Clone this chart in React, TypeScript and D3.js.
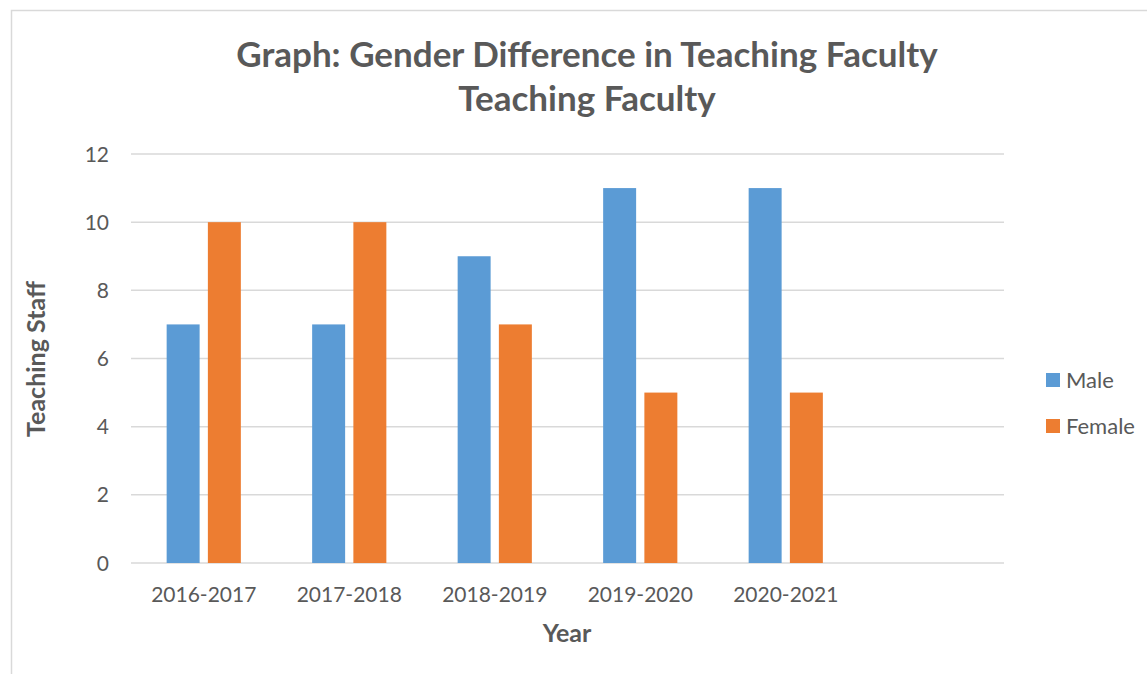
import React, { useRef, useEffect } from 'react';
import * as d3 from 'd3';

// chart data
const years = ['2016-2017', '2017-2018', '2018-2019', '2019-2020', '2020-2021', ''];
const seriesNames = ['Male', 'Female'];
const maleValues = [7, 7, 9, 11, 11];
const femaleValues = [10, 10, 7, 5, 5];
const yTicks = [0, 2, 4, 6, 8, 10, 12];
const seriesColors = ['#5B9BD5', '#ED7D31'];

const App = () => {
    const ref = useRef<HTMLDivElement>(null);

    useEffect(() => {
        d3.select(ref.current).select('svg').remove();

        const W = 1147, H = 674;
        const font = 'Lato, "Open Sans", sans-serif';
        const textColor = '#595959';
        const gridColor = '#d9d9d9';

        const svg = d3.select(ref.current)
            .append('svg')
            .attr('width', W)
            .attr('height', H)
            .style('display', 'block')
            .style('position', 'absolute')
            .style('left', 0)
            .style('top', 0);

        svg.append('rect').attr('width', W).attr('height', H).attr('fill', '#fff');

        // chart border
        svg.append('rect')
            .attr('x', 11.5).attr('y', 10.5)
            .attr('width', W + 20).attr('height', H + 20)
            .attr('fill', 'none')
            .attr('stroke', gridColor)
            .attr('stroke-width', 1.5);

        const left = 131, right = 1004, top = 154, bottom = 563;

        const x0 = d3.scaleBand<string>()
            .domain(years)
            .range([left, right])
            .paddingInner(0.49)
            .paddingOuter(0.245);

        const x1 = d3.scaleBand<string>()
            .domain(seriesNames)
            .range([0, x0.bandwidth()])
            .paddingInner(0.2);

        const y = d3.scaleLinear().domain([0, 12]).range([bottom, top]);

        // gridlines
        svg.append('g')
            .selectAll('line')
            .data(yTicks)
            .enter()
            .append('line')
            .attr('x1', left).attr('x2', right)
            .attr('y1', d => y(d)).attr('y2', d => y(d))
            .attr('stroke', gridColor)
            .attr('stroke-width', 1.5);

        // y tick labels
        svg.append('g')
            .selectAll('text')
            .data(yTicks)
            .enter()
            .append('text')
            .attr('x', 109)
            .attr('y', d => y(d))
            .attr('dy', '0.36em')
            .attr('text-anchor', 'end')
            .attr('font-family', font)
            .attr('font-size', 21)
            .attr('fill', textColor)
            .text(d => d);

        // bars
        const rows = years.slice(0, maleValues.length).map((yr, i) => ({
            year: yr,
            values: [maleValues[i], femaleValues[i]],
        }));

        const groups = svg.append('g')
            .selectAll('g')
            .data(rows)
            .enter()
            .append('g')
            .attr('transform', d => `translate(${x0(d.year)},0)`);

        groups.selectAll('rect')
            .data(d => d.values.map((v, i) => ({ name: seriesNames[i], value: v, i })))
            .enter()
            .append('rect')
            .attr('x', d => x1(d.name)!)
            .attr('y', d => y(d.value))
            .attr('width', x1.bandwidth())
            .attr('height', d => y(0) - y(d.value))
            .attr('fill', d => seriesColors[d.i]);

        // x tick labels
        svg.append('g')
            .selectAll('text')
            .data(years)
            .enter()
            .append('text')
            .attr('x', d => x0(d)! + x0.bandwidth() / 2)
            .attr('y', 602)
            .attr('text-anchor', 'middle')
            .attr('font-family', font)
            .attr('font-size', 21)
            .attr('fill', textColor)
            .text(d => d);

        // titles
        const title = svg.append('text')
            .attr('x', 587)
            .attr('text-anchor', 'middle')
            .attr('font-family', font)
            .attr('font-weight', 'bold')
            .attr('font-size', 35)
            .attr('fill', textColor);
        title.append('tspan').attr('x', 587).attr('y', 67).text('Graph: Gender Difference in Teaching Faculty');
        title.append('tspan').attr('x', 587).attr('y', 111).text('Teaching Faculty');

        svg.append('text')
            .attr('x', 567)
            .attr('y', 642)
            .attr('text-anchor', 'middle')
            .attr('font-family', font)
            .attr('font-weight', 'bold')
            .attr('font-size', 25)
            .attr('fill', textColor)
            .text('Year');

        svg.append('text')
            .attr('transform', 'translate(45,359) rotate(-90)')
            .attr('text-anchor', 'middle')
            .attr('font-family', font)
            .attr('font-weight', 'bold')
            .attr('font-size', 25)
            .attr('fill', textColor)
            .text('Teaching Staff');

        // legend
        const legend = svg.append('g')
            .selectAll('g')
            .data(seriesNames)
            .enter()
            .append('g')
            .attr('transform', (d, i) => `translate(1046,${380 + i * 46})`);

        legend.append('rect')
            .attr('x', 0).attr('y', -7)
            .attr('width', 14).attr('height', 14)
            .attr('fill', (d, i) => seriesColors[i]);

        legend.append('text')
            .attr('x', 20)
            .attr('y', 0)
            .attr('dy', '0.36em')
            .attr('font-family', font)
            .attr('font-size', 22)
            .attr('fill', textColor)
            .text(d => d);
    }, []);

    return <div ref={ref} />;
};

export default App;
